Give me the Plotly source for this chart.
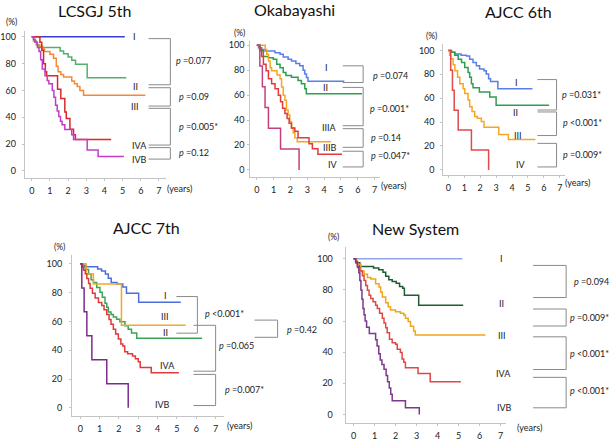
import plotly.graph_objects as go

W, H = 612, 441
FONT = "Lato"

X_TICKS = [0, 1, 2, 3, 4, 5, 6, 7]
Y_TICKS = [0, 20, 40, 60, 80, 100]

# ---------------- LCSGJ 5th ----------------
LCSGJ_I_T = [0, 5.12]
LCSGJ_I_S = [100, 100]
LCSGJ_II_T = [0, 0.1, 0.25, 0.4, 1.56, 1.75, 2.0, 2.2, 2.41, 3.05, 5.2]
LCSGJ_II_S = [100, 97, 94, 92, 89.5, 87.4, 85, 82.5, 79.6, 69.4, 69.4]
LCSGJ_III_T = [0, 0.1, 0.2, 0.3, 0.45, 0.6, 0.7, 1.0, 1.2, 1.35, 1.45, 1.6, 1.75, 2.2, 2.35, 2.5, 2.65, 2.85, 6.25]
LCSGJ_III_S = [100, 98, 96, 94, 93, 91, 89, 87, 84, 78, 74, 72, 70, 67, 65, 63, 60, 56.5, 56.5]
LCSGJ_IVA_T = [0, 0.45, 0.55, 0.65, 0.75, 0.82, 1.42, 1.6, 1.82, 1.9, 2.1, 2.3, 2.4, 4.37]
LCSGJ_IVA_S = [100, 96, 90, 80, 74, 71, 61, 54, 44, 39, 31, 27, 23.5, 23.5]
LCSGJ_IVB_T = [0, 0.1, 0.18, 0.31, 0.4, 0.49, 0.58, 0.73, 0.85, 0.94, 1.13, 1.22, 1.31, 1.4, 1.49,
               1.58, 1.67, 1.82, 2.2, 2.3, 3.05, 3.65, 5.07]
LCSGJ_IVB_S = [100, 98, 96, 92, 89, 83, 76, 71, 67.4, 65, 60, 55, 49, 44.7, 40.5,
               37, 34.4, 30.8, 27, 23.4, 15.5, 10.7, 10.7]

# ---------------- Okabayashi ----------------
OKA_I_T = [0, 0.1, 0.29, 0.49, 1.08, 1.38, 1.57, 1.86, 2.06, 2.32, 2.55, 2.75, 2.85, 2.95, 3.04, 5.2]
OKA_I_S = [100, 98, 96.5, 95.3, 94, 92.7, 90.6, 88.7, 87.4, 85.3, 83.5, 80, 77, 74, 71, 71]
OKA_II_T = [0, 0.2, 0.39, 0.69, 0.98, 1.18, 1.38, 1.57, 1.73, 2.06, 2.45, 2.65, 2.85, 2.94, 6.25]
OKA_II_S = [100, 95.5, 91, 90, 88.7, 84.8, 82, 78.2, 75.6, 74.3, 71.7, 69, 65, 61, 61]
OKA_IIIA_T = [0, 0.5, 0.59, 0.69, 0.79, 0.88, 1.2, 1.38, 1.47, 1.57, 1.67, 1.76, 1.86, 1.96, 2.06, 2.16, 2.26, 2.4, 4.4]
OKA_IIIA_S = [100, 96.6, 92.7, 87.4, 82, 79.5, 76, 73, 66.4, 59.8, 55.9, 48, 44, 38.8, 33.6, 29.7, 25.7, 22.5, 22.5]
OKA_IIIB_T = [0, 0.16, 0.29, 0.39, 0.55, 0.69, 0.88, 1.08, 1.28, 1.41, 1.53, 1.67, 1.8, 1.92, 2.06, 2.26, 2.45,
              3.1, 3.3, 3.63, 5.06]
OKA_IIIB_S = [100, 96.6, 91, 84.8, 79.5, 73, 69, 65, 59.8, 54.6, 49.4, 45.2, 41.3, 37.5, 33.6, 31, 25.7,
              21, 17, 12.6, 12.6]
OKA_IV_T = [0, 0.18, 0.33, 0.49, 0.69, 1.41, 2.51]
OKA_IV_S = [100, 83.3, 66.7, 50, 33.3, 16.7, 0]

# ---------------- AJCC 6th ----------------
A6_I_T = [0, 0.15, 0.4, 0.8, 1.14, 1.34, 1.55, 1.76, 1.96, 2.24, 2.38, 2.53, 2.65, 3.11, 5.28]
A6_I_S = [100, 98.5, 97, 96, 95.3, 92.6, 89.8, 87.1, 84.4, 83, 80.3, 76.2, 73.9, 68, 68]
A6_II_T = [0, 0.2, 0.41, 0.62, 0.83, 1.03, 1.24, 1.34, 1.45, 1.55, 1.95, 2.6, 3.0, 6.33]
A6_II_S = [100, 98.5, 96, 92.6, 89.8, 85.7, 81.6, 77.5, 72, 68.8, 65.2, 61, 54.2, 54.2]
A6_III_T = [0, 0.08, 0.15, 0.3, 0.41, 0.58, 0.72, 0.93, 1.03, 1.24, 1.34, 1.49, 1.66, 1.82, 2.07, 2.24, 3.17, 3.77, 5.47]
A6_III_S = [100, 96, 93, 88, 83, 77.5, 72, 68, 63.9, 58.4, 52.9, 48.8, 44.7, 43.3, 40.5, 35.6, 29.6, 25.5, 25.5]
A6_IV_T = [0, 0.15, 0.26, 0.37, 0.62, 1.45, 2.53]
A6_IV_S = [100, 83.3, 66.7, 50, 33.3, 16.7, 0]

# ---------------- AJCC 7th ----------------
A7_I_T = [0, 0.15, 0.3, 0.9, 1.1, 1.3, 1.45, 1.6, 1.9, 2.2, 2.39, 3.02, 5.2]
A7_I_S = [100, 99, 98, 96.5, 95, 93, 90, 87, 86, 84, 79.5, 73.4, 73.4]
A7_III_T = [0, 0.3, 0.68, 2.13, 5.45]
A7_III_S = [100, 93, 86, 57.3, 57.3]
A7_II_T = [0, 0.15, 0.26, 0.43, 0.56, 0.68, 0.85, 1.02, 1.14, 1.28, 1.37, 1.45, 1.59, 1.71, 1.88, 2.05, 2.31,
           2.48, 2.65, 2.92, 6.3]
A7_II_S = [100, 98, 96, 93, 89, 87, 83.6, 80.2, 76.8, 72.6, 69.9, 66.5, 64.9, 63.1, 61.5, 59.7, 57,
           54.6, 52, 48.3, 48.3]
A7_IVA_T = [0, 0.08, 0.17, 0.26, 0.34, 0.43, 0.51, 0.63, 0.77, 0.94, 1.11, 1.23, 1.37, 1.49, 1.59, 1.71, 1.83,
            1.97, 2.1, 2.2, 2.3, 2.45, 2.7, 2.85, 3.0, 3.1, 3.67, 5.1]
A7_IVA_S = [100, 97.7, 95.5, 93.2, 89.8, 86.4, 83, 79.6, 76.2, 73.2, 71, 68.2, 64.8, 61.4, 58, 54.6, 51.2,
            47.8, 44.4, 43, 39, 37.5, 36, 34, 32, 28, 24.3, 24.3]
A7_IVB_T = [0, 0.08, 0.2, 0.34, 0.6, 1.37, 2.48]
A7_IVB_S = [100, 83.3, 66.7, 50, 33.3, 16.7, 0]

# ---------------- New System ----------------
NS_I_T = [0, 5.18]
NS_I_S = [100, 100]
NS_II_T = [0, 0.1, 0.3, 0.95, 1.2, 1.4, 1.53, 1.68, 1.84, 2.03, 2.19, 2.34, 2.42, 3.1, 5.22]
NS_II_S = [100, 97.5, 95, 94, 93, 91.3, 88.7, 86.5, 85.4, 84.3, 82.1, 81, 76.5, 70.2, 70.2]
NS_III_T = [0, 0.11, 0.19, 0.35, 0.5, 0.66, 0.82, 1.05, 1.21, 1.29, 1.37, 1.53, 1.65, 1.76, 2.0, 2.23, 2.39,
            2.47, 2.6, 2.71, 2.86, 2.94, 6.28]
NS_III_S = [100, 98.5, 96.4, 92.2, 90.1, 88, 87, 83.9, 81.8, 78.6, 75.5, 71.7, 69.2, 67.1, 66, 65, 63.9,
            61.8, 59.7, 56.6, 53.5, 51, 51]
NS_IVA_T = [0, 0.11, 0.19, 0.3, 0.42, 0.5, 0.58, 0.66, 0.74, 0.82, 0.93, 1.05, 1.13, 1.24, 1.37, 1.45, 1.53,
            1.6, 1.71, 1.84, 2.0, 2.08, 2.23, 2.31, 2.39, 2.47, 3.07, 3.65, 5.11]
NS_IVA_S = [100, 97.5, 94.3, 92.2, 89.1, 86, 82.8, 79.7, 76.5, 74.4, 72.3, 70.2, 68.1, 65, 61.8, 58.7, 55.6,
            52.4, 48.2, 46.1, 45.1, 41.9, 39.8, 35.6, 33.5, 30, 26.2, 21, 21]
NS_IVB_T = [0, 0.1, 0.18, 0.25, 0.3, 0.35, 0.4, 0.45, 0.5, 0.55, 0.62, 0.75, 1.05, 1.12, 1.2, 1.27, 1.35,
            1.45, 1.55, 1.62, 1.7, 1.77, 1.84, 2.47, 3.13]
NS_IVB_S = [100, 98, 95, 91, 86, 80, 74, 68, 64, 60, 56, 52, 48, 44, 39, 35, 32,
            29, 25, 21, 17, 13, 8.8, 4.2, 0]

TITLES = ["LCSGJ 5th", "Okabayashi", "AJCC 6th", "AJCC 7th", "New System"]

CURVES = [
    [(LCSGJ_I_T, LCSGJ_I_S, "#3b3bd8"), (LCSGJ_II_T, LCSGJ_II_S, "#52b06e"),
     (LCSGJ_III_T, LCSGJ_III_S, "#f08a3a"), (LCSGJ_IVA_T, LCSGJ_IVA_S, "#d8282c"),
     (LCSGJ_IVB_T, LCSGJ_IVB_S, "#c23cc8")],
    [(OKA_I_T, OKA_I_S, "#5a7fe6"), (OKA_II_T, OKA_II_S, "#2e9e4f"),
     (OKA_IIIA_T, OKA_IIIA_S, "#f5a623"), (OKA_IIIB_T, OKA_IIIB_S, "#e03a3a"),
     (OKA_IV_T, OKA_IV_S, "#c2407e")],
    [(A6_I_T, A6_I_S, "#5a7fe6"), (A6_II_T, A6_II_S, "#2e9e4f"),
     (A6_III_T, A6_III_S, "#f5a623"), (A6_IV_T, A6_IV_S, "#e04a4a")],
    [(A7_I_T, A7_I_S, "#4a6fdc"), (A7_II_T, A7_II_S, "#3aa655"),
     (A7_III_T, A7_III_S, "#f5a623"), (A7_IVA_T, A7_IVA_S, "#e03a3a"),
     (A7_IVB_T, A7_IVB_S, "#7b2d8b")],
    [(NS_I_T, NS_I_S, "#8ea6e6"), (NS_II_T, NS_II_S, "#1f5c33"),
     (NS_III_T, NS_III_S, "#f2a41c"), (NS_IVA_T, NS_IVA_S, "#e04848"),
     (NS_IVB_T, NS_IVB_S, "#7b3a8c")],
]

# Stage labels (text, px x, px y)
STAGE_LABELS = [
    [("I", 130, 35), ("II", 130.5, 86), ("III", 130.5, 106), ("IVA", 135, 145.7), ("IVB", 135, 160.7)],
    [("I", 323.3, 66.7), ("II", 322.7, 87.3), ("IIIA", 326.7, 128.3), ("IIIB", 327.3, 148.3), ("IV", 330, 165)],
    [("I", 516, 81.7), ("II", 515, 112.3), ("III", 517.3, 136), ("IV", 520, 165.7)],
    [("I", 161, 299.3), ("III", 161, 320), ("II", 161, 336.7), ("IVA", 163.3, 370.7), ("IVB", 158.3, 410)],
    [("I", 500, 261.7), ("II", 500, 306.7), ("III", 500.7, 339.3), ("IVA", 502.7, 378.3), ("IVB", 503.3, 413.3)],
]

# p-values
P_TEXTS = [
    ["=0.077", "=0.09", "=0.005*", "=0.12"],
    ["=0.074", "=0.001*", "=0.14", "=0.047*"],
    ["=0.031*", "<0.001*", "=0.009*"],
    ["<0.001*", "=0.065", "=0.007*", "=0.42"],
    ["=0.094", "=0.009*", "<0.001*", "<0.001*"],
]

# ---------------- geometry (pixels) ----------------
GEOM = [
    dict(X0=26, X7=154.5, Y0=172, Y100=35.5, xL=19, xR=162, yT=30, yB=179, ystand=4),
    dict(X0=253.3, X7=372.3, Y0=171, Y100=44, xL=246.7, xR=378, yT=40, yB=178, ystand=1),
    dict(X0=446.7, X7=559.3, Y0=171, Y100=49.3, xL=441.7, xR=565, yT=43, yB=176, ystand=4),
    dict(X0=75, X7=211.7, Y0=413.3, Y100=266.7, xL=66.7, xR=220, yT=258, yB=421.7, ystand=5),
    dict(X0=351, X7=499.5, Y0=420, Y100=261.5, xL=343, xR=505, yT=250, yB=429, ystand=8),
]
TITLE_POS = [(90, 9), (291, 8), (518, 10), (142, 230), (414, 230.5)]
PCT_POS = [(6, 20), (236, 31.7), (430, 35), (54, 249.3), (331, 239.7)]
YEARS_POS = [(175.5, 190.3), (391, 187.3), (577, 184.3), (236, 431), (528.3, 433.3)]

BRACKETS = [
    [(144, 166, 37.3, 84.3), (144, 166, 87.3, 106), (144, 166, 108.3, 145.7), (144, 166, 148.3, 160)],
    [(340, 360.7, 65, 82), (340, 360.7, 87, 126), (340, 360.7, 129, 148), (340, 360.7, 152, 168)],
    [(536.7, 556, 79, 110), (536.7, 556, 112, 136), (536.7, 556, 144, 168)],
    [(172, 193.3, 300, 337.3), (189.3, 211.7, 329.3, 376), (189.3, 211.7, 379.3, 411), (251, 274.3, 324, 341.5)],
    [(532.3, 565.7, 268.3, 301), (532.3, 565.7, 312.7, 330), (532.3, 565.7, 341, 374.3), (532.3, 565.7, 382.3, 413.3)],
]
P_POS = [
    [(170, 60, "left"), (172.7, 96.7, "left"), (172.7, 126.7, "left"), (172.7, 153.3, "left")],
    [(368.3, 75.3, "left"), (365.7, 108.3, "left"), (366.7, 138.3, "left"), (366.7, 156.7, "left")],
    [(559.3, 94.3, "left"), (560, 122.7, "left"), (560, 155.7, "left")],
    [(199.3, 317.5, "left"), (213.3, 350, "left"), (219, 395, "left"), (281.7, 333.3, "left")],
    [(611, 285, "right"), (611, 321.7, "right"), (611, 357.7, "right"), (611, 395.7, "right")],
]


def fx(px):
    return px / W


def fy(py):
    return 1 - py / H


fig = go.Figure()
annotations = []
shapes = []
layout = dict(width=W, height=H, margin=dict(l=0, r=0, t=0, b=0),
              paper_bgcolor="white", plot_bgcolor="white", showlegend=False,
              font=dict(family=FONT, color="#222", size=9))

AX_COLOR = "#c4c4c4"
for i, g in enumerate(GEOM):
    n = "" if i == 0 else str(i + 1)
    ppy = (g["X7"] - g["X0"]) / 7
    ppp = (g["Y0"] - g["Y100"]) / 100
    xr = [(g["xL"] - g["X0"]) / ppy, (g["xR"] - g["X0"]) / ppy]
    yr = [(g["Y0"] - g["yB"]) / ppp, (g["Y0"] - g["yT"]) / ppp]
    layout["xaxis" + n] = dict(domain=[fx(g["xL"]), fx(g["xR"])], range=xr, anchor="y" + n,
                               tickvals=X_TICKS, showline=True, linecolor=AX_COLOR, linewidth=1,
                               showgrid=False, zeroline=False, ticks="outside", ticklen=2,
                               tickcolor=AX_COLOR, tickfont=dict(size=9, color="#222", family=FONT),
                               ticklabelstandoff=2, fixedrange=True)
    layout["yaxis" + n] = dict(domain=[fy(g["yB"]), fy(g["yT"])], range=yr, anchor="x" + n,
                               tickvals=Y_TICKS, showline=True, linecolor=AX_COLOR, linewidth=1,
                               showgrid=False, zeroline=False, ticks="outside", ticklen=2,
                               tickcolor=AX_COLOR, tickfont=dict(size=9, color="#222", family=FONT),
                               ticklabelstandoff=g["ystand"], fixedrange=True)
    for (t, s, c) in CURVES[i]:
        fig.add_trace(go.Scatter(x=t, y=s, mode="lines", line=dict(color=c, width=1.5, shape="hv"),
                                 xaxis="x" + n, yaxis="y" + n, hoverinfo="skip"))
    tx, ty = TITLE_POS[i]
    annotations.append(dict(text=TITLES[i], x=fx(tx), y=fy(ty), xref="paper", yref="paper",
                            showarrow=False, xanchor="center", yanchor="middle",
                            font=dict(size=16, color="#111", family=FONT)))
    px_, py_ = PCT_POS[i]
    annotations.append(dict(text="(%)", x=fx(px_), y=fy(py_), xref="paper", yref="paper",
                            showarrow=False, xanchor="center", yanchor="middle",
                            font=dict(size=8.5, color="#222", family=FONT)))
    yx, yy = YEARS_POS[i]
    annotations.append(dict(text="(years)", x=fx(yx), y=fy(yy), xref="paper", yref="paper",
                            showarrow=False, xanchor="center", yanchor="middle",
                            font=dict(size=9, color="#222", family=FONT)))
    for (lab, lx, ly) in STAGE_LABELS[i]:
        annotations.append(dict(text=lab, x=fx(lx), y=fy(ly), xref="paper", yref="paper",
                                showarrow=False, xanchor="center", yanchor="middle",
                                font=dict(size=9, color="#222", family=FONT)))
    for (xl, xrr, yt, yb), ptxt, (qx, qy, anc) in zip(BRACKETS[i], P_TEXTS[i], P_POS[i]):
        shapes.append(dict(type="path", xref="paper", yref="paper",
                           path=f"M {fx(xl)},{fy(yt)} L {fx(xrr)},{fy(yt)} L {fx(xrr)},{fy(yb)} L {fx(xl)},{fy(yb)}",
                           line=dict(color="#8a8a8a", width=1)))
        annotations.append(dict(text="<i>p</i> " + ptxt, x=fx(qx), y=fy(qy), xref="paper", yref="paper",
                                showarrow=False, xanchor=anc, yanchor="middle",
                                font=dict(size=9, color="#222", family=FONT)))

layout["annotations"] = annotations
layout["shapes"] = shapes
fig.update_layout(**layout)
fig.write_html("out.html", config={"displayModeBar": False, "staticPlot": True},
               post_script="document.body.style.margin='0';document.body.style.padding='0';")
